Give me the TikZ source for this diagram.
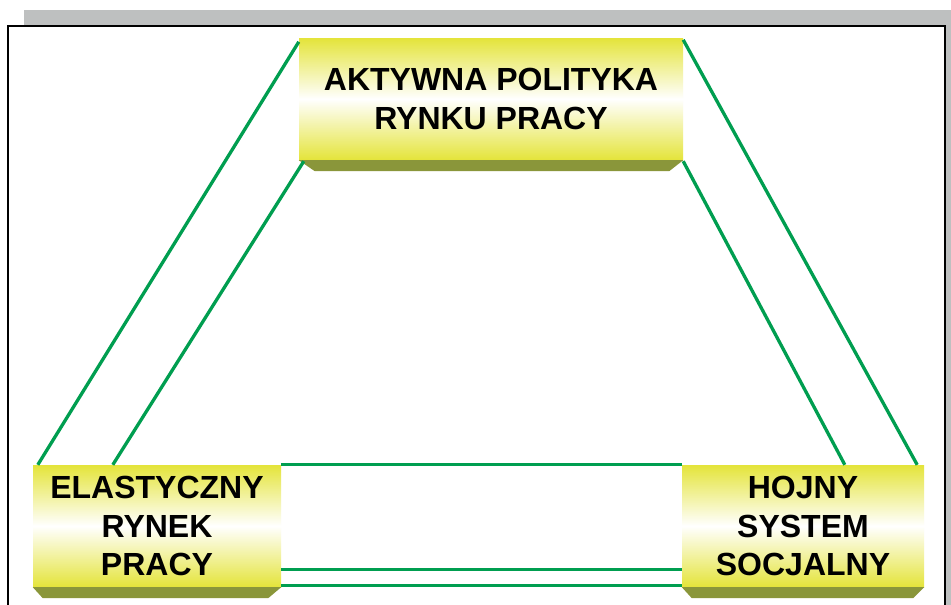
\documentclass[tikz,border=0pt]{standalone}
\usepackage{fontspec}
\setmainfont{Liberation Sans}
\usetikzlibrary{calc}
\definecolor{ylw}{RGB}{228,228,58}
\definecolor{olive}{RGB}{138,150,58}
\definecolor{grn}{RGB}{0,158,80}
\definecolor{shadowgray}{RGB}{190,192,192}
\tikzset{
  box/.style={inner sep=0pt, align=center, font=\bfseries\fontsize{32}{38.5}\selectfont,
    top color=ylw, bottom color=ylw, middle color=white, draw=none},
  link/.style={draw=grn, line width=3.3pt},
  bevel/.style={fill=olive, draw=none}
}
\begin{document}
\begin{tikzpicture}[x=1pt,y=-1pt]
\useasboundingbox (0,0) rectangle (951,605);
% page frame
\fill[shadowgray] (24,10) rectangle (951,605);
\draw[black, line width=2pt, fill=white] (8,26) rectangle (945,640);
% boxes
\node[box, minimum width=384pt, minimum height=122pt] (top) at (491,99) {AKTYWNA POLITYKA\\RYNKU PRACY};
\node[box, minimum width=248pt, minimum height=122pt] (left) at (157,526) {ELASTYCZNY\\RYNEK\\PRACY};
\node[box, minimum width=242pt, minimum height=122pt] (right) at (803,526) {HOJNY\\SYSTEM\\SOCJALNY};
% bevels
\fill[bevel] (top.south west) -- ++(16,11) -- ($(top.south east)+(-14,11)$) -- (top.south east) -- cycle;
\fill[bevel] (left.south west) -- ++(10,11) -- ($(left.south east)+(-13,11)$) -- (left.south east) -- cycle;
\fill[bevel] (right.south west) -- ++(10,11) -- ($(right.south east)+(-11,11)$) -- (right.south east) -- cycle;
% connectors
\draw[link] ($(top.north west)+(0,4)$) -- ($(left.north west)+(5,0)$);
\draw[link] ($(top.south west)+(5,1)$) -- ($(left.north west)+(80,0)$);
\draw[link] ($(top.north east)+(0,2)$) -- ($(right.north east)+(-7,0)$);
\draw[link] ($(top.south east)+(0,1)$) -- ($(right.north west)+(163,0)$);
\draw[link] (left.north east) -- (right.north west);
\draw[link] ($(left.south east)+(0,-18)$) -- ($(right.south west)+(0,-18)$);
\draw[link] ($(left.south east)+(0,-2)$) -- ($(right.south west)+(0,-2)$);
\end{tikzpicture}
\end{document}
